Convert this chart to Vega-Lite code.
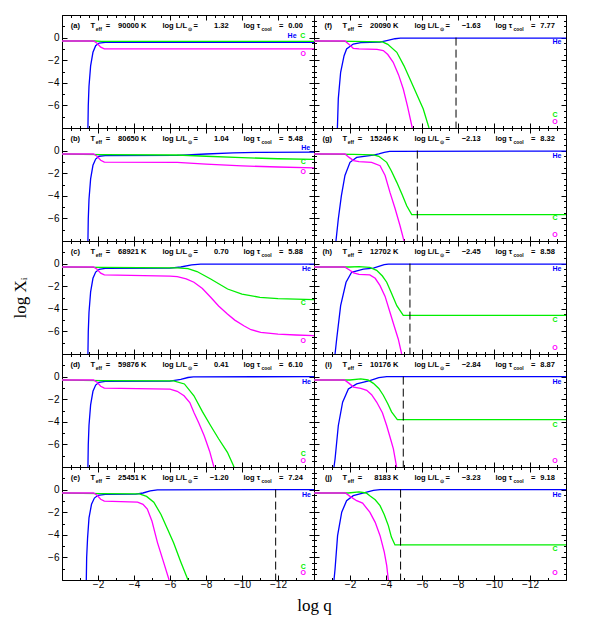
{
"$schema":"https://vega.github.io/schema/vega-lite/v6.json",
"background":"white",
"padding":{"left":11,"top":9,"right":5,"bottom":5},
"datasets":{
"curves":[
{"p":"a","s":"He","q":-1.44,"X":-8},{"p":"a","s":"He","q":-1.46,"X":-6},{"p":"a","s":"He","q":-1.5,"X":-4.3},{"p":"a","s":"He","q":-1.59,"X":-2.5},{"p":"a","s":"He","q":-1.72,"X":-1.3},{"p":"a","s":"He","q":-1.87,"X":-0.72},{"p":"a","s":"He","q":-2.06,"X":-0.48},{"p":"a","s":"He","q":-2.4,"X":-0.42},{"p":"a","s":"He","q":-14,"X":-0.42},
{"p":"a","s":"C","q":0,"X":-0.3},{"p":"a","s":"C","q":-1.8,"X":-0.3},{"p":"a","s":"C","q":-2.2,"X":-0.33},{"p":"a","s":"C","q":-14,"X":-0.33},
{"p":"a","s":"O","q":0,"X":-0.3},{"p":"a","s":"O","q":-1.75,"X":-0.3},{"p":"a","s":"O","q":-1.95,"X":-0.5},{"p":"a","s":"O","q":-2.15,"X":-0.85},{"p":"a","s":"O","q":-2.35,"X":-1.0},{"p":"a","s":"O","q":-14,"X":-1.0},

{"p":"b","s":"He","q":-1.44,"X":-8},{"p":"b","s":"He","q":-1.46,"X":-6},{"p":"b","s":"He","q":-1.5,"X":-4.3},{"p":"b","s":"He","q":-1.59,"X":-2.5},{"p":"b","s":"He","q":-1.72,"X":-1.3},{"p":"b","s":"He","q":-1.87,"X":-0.75},{"p":"b","s":"He","q":-2.06,"X":-0.5},{"p":"b","s":"He","q":-2.4,"X":-0.45},{"p":"b","s":"He","q":-6.4,"X":-0.43},{"p":"b","s":"He","q":-8,"X":-0.3},{"p":"b","s":"He","q":-9.5,"X":-0.2},{"p":"b","s":"He","q":-11,"X":-0.15},{"p":"b","s":"He","q":-14,"X":-0.13},
{"p":"b","s":"C","q":0,"X":-0.3},{"p":"b","s":"C","q":-2.2,"X":-0.36},{"p":"b","s":"C","q":-6.4,"X":-0.39},{"p":"b","s":"C","q":-8,"X":-0.5},{"p":"b","s":"C","q":-10,"X":-0.62},{"p":"b","s":"C","q":-12,"X":-0.72},{"p":"b","s":"C","q":-14,"X":-0.78},
{"p":"b","s":"O","q":0,"X":-0.3},{"p":"b","s":"O","q":-1.75,"X":-0.3},{"p":"b","s":"O","q":-1.95,"X":-0.5},{"p":"b","s":"O","q":-2.15,"X":-0.85},{"p":"b","s":"O","q":-2.35,"X":-1.02},{"p":"b","s":"O","q":-6.4,"X":-1.05},{"p":"b","s":"O","q":-8,"X":-1.2},{"p":"b","s":"O","q":-10,"X":-1.35},{"p":"b","s":"O","q":-12,"X":-1.45},{"p":"b","s":"O","q":-14,"X":-1.52},

{"p":"c","s":"He","q":-1.44,"X":-8},{"p":"c","s":"He","q":-1.46,"X":-6},{"p":"c","s":"He","q":-1.5,"X":-4.3},{"p":"c","s":"He","q":-1.59,"X":-2.5},{"p":"c","s":"He","q":-1.72,"X":-1.3},{"p":"c","s":"He","q":-1.87,"X":-0.75},{"p":"c","s":"He","q":-2.06,"X":-0.5},{"p":"c","s":"He","q":-2.4,"X":-0.42},{"p":"c","s":"He","q":-6.0,"X":-0.4},{"p":"c","s":"He","q":-6.6,"X":-0.3},{"p":"c","s":"He","q":-7.2,"X":-0.12},{"p":"c","s":"He","q":-7.7,"X":-0.05},{"p":"c","s":"He","q":-14,"X":-0.04},
{"p":"c","s":"C","q":0,"X":-0.3},{"p":"c","s":"C","q":-2.2,"X":-0.34},{"p":"c","s":"C","q":-6.4,"X":-0.38},{"p":"c","s":"C","q":-7.0,"X":-0.45},{"p":"c","s":"C","q":-7.5,"X":-0.7},{"p":"c","s":"C","q":-8.26,"X":-1.36},{"p":"c","s":"C","q":-9.2,"X":-2.25},{"p":"c","s":"C","q":-10,"X":-2.7},{"p":"c","s":"C","q":-11,"X":-2.98},{"p":"c","s":"C","q":-12,"X":-3.1},{"p":"c","s":"C","q":-14,"X":-3.19},
{"p":"c","s":"O","q":0,"X":-0.3},{"p":"c","s":"O","q":-1.75,"X":-0.3},{"p":"c","s":"O","q":-1.95,"X":-0.5},{"p":"c","s":"O","q":-2.15,"X":-0.85},{"p":"c","s":"O","q":-2.35,"X":-1.0},{"p":"c","s":"O","q":-6.0,"X":-1.1},{"p":"c","s":"O","q":-6.4,"X":-1.16},{"p":"c","s":"O","q":-6.9,"X":-1.35},{"p":"c","s":"O","q":-7.33,"X":-1.65},{"p":"c","s":"O","q":-7.8,"X":-2.2},{"p":"c","s":"O","q":-8.26,"X":-2.98},{"p":"c","s":"O","q":-8.7,"X":-3.75},{"p":"c","s":"O","q":-9.19,"X":-4.46},{"p":"c","s":"O","q":-9.6,"X":-5.0},{"p":"c","s":"O","q":-10.1,"X":-5.5},{"p":"c","s":"O","q":-10.5,"X":-5.85},{"p":"c","s":"O","q":-11.04,"X":-6.08},{"p":"c","s":"O","q":-12,"X":-6.25},{"p":"c","s":"O","q":-13,"X":-6.32},{"p":"c","s":"O","q":-14,"X":-6.38},

{"p":"d","s":"He","q":-1.44,"X":-8},{"p":"d","s":"He","q":-1.46,"X":-6},{"p":"d","s":"He","q":-1.5,"X":-4.3},{"p":"d","s":"He","q":-1.59,"X":-2.5},{"p":"d","s":"He","q":-1.72,"X":-1.3},{"p":"d","s":"He","q":-1.87,"X":-0.75},{"p":"d","s":"He","q":-2.06,"X":-0.5},{"p":"d","s":"He","q":-2.4,"X":-0.42},{"p":"d","s":"He","q":-6.0,"X":-0.4},{"p":"d","s":"He","q":-6.6,"X":-0.25},{"p":"d","s":"He","q":-7.0,"X":-0.08},{"p":"d","s":"He","q":-7.3,"X":-0.02},{"p":"d","s":"He","q":-14,"X":-0.01},
{"p":"d","s":"C","q":0,"X":-0.3},{"p":"d","s":"C","q":-2.2,"X":-0.35},{"p":"d","s":"C","q":-6.2,"X":-0.38},{"p":"d","s":"C","q":-6.8,"X":-0.65},{"p":"d","s":"C","q":-7.33,"X":-1.7},{"p":"d","s":"C","q":-7.8,"X":-3.1},{"p":"d","s":"C","q":-8.26,"X":-4.35},{"p":"d","s":"C","q":-8.7,"X":-5.5},{"p":"d","s":"C","q":-9.19,"X":-6.7},{"p":"d","s":"C","q":-9.56,"X":-8},
{"p":"d","s":"O","q":0,"X":-0.3},{"p":"d","s":"O","q":-1.75,"X":-0.3},{"p":"d","s":"O","q":-1.95,"X":-0.5},{"p":"d","s":"O","q":-2.15,"X":-0.85},{"p":"d","s":"O","q":-2.35,"X":-1.02},{"p":"d","s":"O","q":-6.0,"X":-1.1},{"p":"d","s":"O","q":-6.4,"X":-1.3},{"p":"d","s":"O","q":-6.78,"X":-1.7},{"p":"d","s":"O","q":-7.1,"X":-2.3},{"p":"d","s":"O","q":-7.33,"X":-3.17},{"p":"d","s":"O","q":-7.6,"X":-4.1},{"p":"d","s":"O","q":-7.9,"X":-5.23},{"p":"d","s":"O","q":-8.2,"X":-6.6},{"p":"d","s":"O","q":-8.44,"X":-8},

{"p":"e","s":"He","q":-1.35,"X":-8},{"p":"e","s":"He","q":-1.37,"X":-6},{"p":"e","s":"He","q":-1.42,"X":-4.3},{"p":"e","s":"He","q":-1.5,"X":-2.5},{"p":"e","s":"He","q":-1.64,"X":-1.3},{"p":"e","s":"He","q":-1.8,"X":-0.75},{"p":"e","s":"He","q":-2.0,"X":-0.5},{"p":"e","s":"He","q":-2.4,"X":-0.42},{"p":"e","s":"He","q":-4.1,"X":-0.4},{"p":"e","s":"He","q":-4.5,"X":-0.3},{"p":"e","s":"He","q":-4.9,"X":-0.12},{"p":"e","s":"He","q":-5.3,"X":-0.02},{"p":"e","s":"He","q":-14,"X":0},
{"p":"e","s":"C","q":0,"X":-0.3},{"p":"e","s":"C","q":-2.2,"X":-0.35},{"p":"e","s":"C","q":-4.3,"X":-0.38},{"p":"e","s":"C","q":-4.7,"X":-0.6},{"p":"e","s":"C","q":-5.1,"X":-1.12},{"p":"e","s":"C","q":-5.5,"X":-2.2},{"p":"e","s":"C","q":-5.86,"X":-3.49},{"p":"e","s":"C","q":-6.2,"X":-4.7},{"p":"e","s":"C","q":-6.6,"X":-6.4},{"p":"e","s":"C","q":-7.0,"X":-8},
{"p":"e","s":"O","q":0,"X":-0.3},{"p":"e","s":"O","q":-1.75,"X":-0.3},{"p":"e","s":"O","q":-1.95,"X":-0.5},{"p":"e","s":"O","q":-2.15,"X":-0.85},{"p":"e","s":"O","q":-2.35,"X":-1.02},{"p":"e","s":"O","q":-4.2,"X":-1.1},{"p":"e","s":"O","q":-4.5,"X":-1.3},{"p":"e","s":"O","q":-4.74,"X":-1.72},{"p":"e","s":"O","q":-5.0,"X":-2.8},{"p":"e","s":"O","q":-5.3,"X":-4.67},{"p":"e","s":"O","q":-5.6,"X":-6.2},{"p":"e","s":"O","q":-5.95,"X":-8},

{"p":"f","s":"He","q":-1.3,"X":-8},{"p":"f","s":"He","q":-1.35,"X":-5.4},{"p":"f","s":"He","q":-1.48,"X":-3.07},{"p":"f","s":"He","q":-1.67,"X":-1.6},{"p":"f","s":"He","q":-1.81,"X":-1.0},{"p":"f","s":"He","q":-2.18,"X":-0.57},{"p":"f","s":"He","q":-2.6,"X":-0.45},{"p":"f","s":"He","q":-3.67,"X":-0.4},{"p":"f","s":"He","q":-4.1,"X":-0.25},{"p":"f","s":"He","q":-4.5,"X":-0.1},{"p":"f","s":"He","q":-4.8,"X":-0.05},{"p":"f","s":"He","q":-14,"X":-0.05},
{"p":"f","s":"C","q":0,"X":-0.3},{"p":"f","s":"C","q":-2.2,"X":-0.33},{"p":"f","s":"C","q":-3.8,"X":-0.38},{"p":"f","s":"C","q":-4.1,"X":-0.6},{"p":"f","s":"C","q":-4.6,"X":-1.3},{"p":"f","s":"C","q":-5.0,"X":-2.5},{"p":"f","s":"C","q":-5.33,"X":-3.66},{"p":"f","s":"C","q":-5.7,"X":-5.0},{"p":"f","s":"C","q":-6.07,"X":-6.32},{"p":"f","s":"C","q":-6.39,"X":-8},
{"p":"f","s":"O","q":0,"X":-0.3},{"p":"f","s":"O","q":-1.72,"X":-0.3},{"p":"f","s":"O","q":-1.95,"X":-0.6},{"p":"f","s":"O","q":-2.18,"X":-0.95},{"p":"f","s":"O","q":-2.5,"X":-1.0},{"p":"f","s":"O","q":-3.5,"X":-1.05},{"p":"f","s":"O","q":-3.85,"X":-1.15},{"p":"f","s":"O","q":-4.1,"X":-1.5},{"p":"f","s":"O","q":-4.4,"X":-2.19},{"p":"f","s":"O","q":-4.7,"X":-3.3},{"p":"f","s":"O","q":-4.96,"X":-4.55},{"p":"f","s":"O","q":-5.2,"X":-6.1},{"p":"f","s":"O","q":-5.46,"X":-8},

{"p":"g","s":"He","q":-1.22,"X":-8},{"p":"g","s":"He","q":-1.35,"X":-6.05},{"p":"g","s":"He","q":-1.52,"X":-4.0},{"p":"g","s":"He","q":-1.72,"X":-2.2},{"p":"g","s":"He","q":-2.0,"X":-1.04},{"p":"g","s":"He","q":-2.37,"X":-0.6},{"p":"g","s":"He","q":-3.3,"X":-0.4},{"p":"g","s":"He","q":-3.6,"X":-0.3},{"p":"g","s":"He","q":-3.9,"X":-0.15},{"p":"g","s":"He","q":-4.2,"X":-0.06},{"p":"g","s":"He","q":-14,"X":-0.05},
{"p":"g","s":"C","q":0,"X":-0.3},{"p":"g","s":"C","q":-2.2,"X":-0.33},{"p":"g","s":"C","q":-3.3,"X":-0.38},{"p":"g","s":"C","q":-3.6,"X":-0.5},{"p":"g","s":"C","q":-4.04,"X":-1.04},{"p":"g","s":"C","q":-4.3,"X":-1.8},{"p":"g","s":"C","q":-4.6,"X":-2.81},{"p":"g","s":"C","q":-4.9,"X":-3.9},{"p":"g","s":"C","q":-5.15,"X":-4.88},{"p":"g","s":"C","q":-5.43,"X":-5.67},{"p":"g","s":"C","q":-14,"X":-5.67},
{"p":"g","s":"O","q":0,"X":-0.3},{"p":"g","s":"O","q":-1.72,"X":-0.3},{"p":"g","s":"O","q":-1.95,"X":-0.6},{"p":"g","s":"O","q":-2.2,"X":-0.88},{"p":"g","s":"O","q":-2.5,"X":-0.97},{"p":"g","s":"O","q":-3.2,"X":-1.05},{"p":"g","s":"O","q":-3.67,"X":-1.34},{"p":"g","s":"O","q":-3.95,"X":-2.2},{"p":"g","s":"O","q":-4.22,"X":-3.7},{"p":"g","s":"O","q":-4.5,"X":-5.1},{"p":"g","s":"O","q":-4.78,"X":-6.65},{"p":"g","s":"O","q":-5.0,"X":-8},

{"p":"h","s":"He","q":-1.17,"X":-8},{"p":"h","s":"He","q":-1.26,"X":-6.67},{"p":"h","s":"He","q":-1.48,"X":-3.72},{"p":"h","s":"He","q":-1.78,"X":-1.65},{"p":"h","s":"He","q":-2.09,"X":-0.77},{"p":"h","s":"He","q":-2.74,"X":-0.48},{"p":"h","s":"He","q":-3.3,"X":-0.4},{"p":"h","s":"He","q":-3.6,"X":-0.25},{"p":"h","s":"He","q":-3.9,"X":-0.1},{"p":"h","s":"He","q":-4.13,"X":-0.04},{"p":"h","s":"He","q":-14,"X":-0.04},
{"p":"h","s":"C","q":0,"X":-0.3},{"p":"h","s":"C","q":-2.0,"X":-0.3},{"p":"h","s":"C","q":-2.5,"X":-0.27},{"p":"h","s":"C","q":-3.1,"X":-0.33},{"p":"h","s":"C","q":-3.48,"X":-0.6},{"p":"h","s":"C","q":-3.8,"X":-1.1},{"p":"h","s":"C","q":-4.04,"X":-1.65},{"p":"h","s":"C","q":-4.3,"X":-2.6},{"p":"h","s":"C","q":-4.6,"X":-3.72},{"p":"h","s":"C","q":-4.96,"X":-4.58},{"p":"h","s":"C","q":-14,"X":-4.58},
{"p":"h","s":"O","q":0,"X":-0.3},{"p":"h","s":"O","q":-1.7,"X":-0.3},{"p":"h","s":"O","q":-1.95,"X":-0.55},{"p":"h","s":"O","q":-2.2,"X":-0.82},{"p":"h","s":"O","q":-2.5,"X":-0.95},{"p":"h","s":"O","q":-3.1,"X":-1.0},{"p":"h","s":"O","q":-3.4,"X":-1.3},{"p":"h","s":"O","q":-3.67,"X":-1.95},{"p":"h","s":"O","q":-3.95,"X":-2.9},{"p":"h","s":"O","q":-4.22,"X":-4.3},{"p":"h","s":"O","q":-4.45,"X":-5.5},{"p":"h","s":"O","q":-4.68,"X":-6.67},{"p":"h","s":"O","q":-4.87,"X":-8},

{"p":"i","s":"He","q":-1.11,"X":-8},{"p":"i","s":"He","q":-1.17,"X":-7.29},{"p":"i","s":"He","q":-1.35,"X":-4.35},{"p":"i","s":"He","q":-1.59,"X":-2.27},{"p":"i","s":"He","q":-1.91,"X":-1.1},{"p":"i","s":"He","q":-2.37,"X":-0.65},{"p":"i","s":"He","q":-3.1,"X":-0.35},{"p":"i","s":"He","q":-3.6,"X":-0.1},{"p":"i","s":"He","q":-4.04,"X":-0.01},{"p":"i","s":"He","q":-14,"X":-0.01},
{"p":"i","s":"C","q":0,"X":-0.3},{"p":"i","s":"C","q":-2.0,"X":-0.3},{"p":"i","s":"C","q":-2.6,"X":-0.2},{"p":"i","s":"C","q":-3.0,"X":-0.3},{"p":"i","s":"C","q":-3.3,"X":-0.6},{"p":"i","s":"C","q":-3.6,"X":-1.05},{"p":"i","s":"C","q":-3.85,"X":-1.65},{"p":"i","s":"C","q":-4.1,"X":-2.4},{"p":"i","s":"C","q":-4.31,"X":-3.12},{"p":"i","s":"C","q":-4.63,"X":-3.8},{"p":"i","s":"C","q":-14,"X":-3.8},
{"p":"i","s":"O","q":0,"X":-0.3},{"p":"i","s":"O","q":-1.7,"X":-0.3},{"p":"i","s":"O","q":-1.95,"X":-0.6},{"p":"i","s":"O","q":-2.2,"X":-0.93},{"p":"i","s":"O","q":-2.6,"X":-1.05},{"p":"i","s":"O","q":-2.93,"X":-1.22},{"p":"i","s":"O","q":-3.2,"X":-1.6},{"p":"i","s":"O","q":-3.48,"X":-2.25},{"p":"i","s":"O","q":-3.8,"X":-3.2},{"p":"i","s":"O","q":-4.04,"X":-4.35},{"p":"i","s":"O","q":-4.25,"X":-5.5},{"p":"i","s":"O","q":-4.41,"X":-6.4},{"p":"i","s":"O","q":-4.59,"X":-8},

{"p":"j","s":"He","q":-1.11,"X":-8},{"p":"j","s":"He","q":-1.17,"X":-7.03},{"p":"j","s":"He","q":-1.31,"X":-4.08},{"p":"j","s":"He","q":-1.54,"X":-2.0},{"p":"j","s":"He","q":-1.81,"X":-0.98},{"p":"j","s":"He","q":-2.18,"X":-0.54},{"p":"j","s":"He","q":-2.93,"X":-0.23},{"p":"j","s":"He","q":-3.3,"X":-0.07},{"p":"j","s":"He","q":-3.67,"X":0},{"p":"j","s":"He","q":-14,"X":0},
{"p":"j","s":"C","q":0,"X":-0.3},{"p":"j","s":"C","q":-1.9,"X":-0.3},{"p":"j","s":"C","q":-2.5,"X":-0.2},{"p":"j","s":"C","q":-2.9,"X":-0.3},{"p":"j","s":"C","q":-3.1,"X":-0.55},{"p":"j","s":"C","q":-3.4,"X":-0.9},{"p":"j","s":"C","q":-3.67,"X":-1.42},{"p":"j","s":"C","q":-3.9,"X":-2.2},{"p":"j","s":"C","q":-4.13,"X":-3.19},{"p":"j","s":"C","q":-4.3,"X":-4.2},{"p":"j","s":"C","q":-4.5,"X":-4.9},{"p":"j","s":"C","q":-14,"X":-4.9},
{"p":"j","s":"O","q":0,"X":-0.3},{"p":"j","s":"O","q":-1.75,"X":-0.3},{"p":"j","s":"O","q":-2.0,"X":-0.6},{"p":"j","s":"O","q":-2.37,"X":-0.98},{"p":"j","s":"O","q":-2.7,"X":-1.2},{"p":"j","s":"O","q":-3.1,"X":-2.0},{"p":"j","s":"O","q":-3.4,"X":-2.9},{"p":"j","s":"O","q":-3.67,"X":-4.08},{"p":"j","s":"O","q":-3.9,"X":-5.5},{"p":"j","s":"O","q":-4.04,"X":-6.73},{"p":"j","s":"O","q":-4.13,"X":-8}
],
"labels":[
{"p":"a","s":"He","q":-12.78,"X":0.12},{"p":"a","s":"C","q":-13.37,"X":0.12},{"p":"a","s":"O","q":-13.4,"X":-1.45},
{"p":"b","s":"He","q":-13.54,"X":0.2},{"p":"b","s":"C","q":-13.4,"X":-1.04},{"p":"b","s":"O","q":-13.4,"X":-1.87},
{"p":"c","s":"He","q":-13.58,"X":-0.48},{"p":"c","s":"C","q":-13.4,"X":-3.5},{"p":"c","s":"O","q":-13.4,"X":-6.83},
{"p":"d","s":"He","q":-13.58,"X":-0.51},{"p":"d","s":"C","q":-13.4,"X":-6.85},{"p":"d","s":"O","q":-13.4,"X":-7.44},
{"p":"e","s":"He","q":-13.58,"X":-0.45},{"p":"e","s":"C","q":-13.4,"X":-6.83},{"p":"e","s":"O","q":-13.4,"X":-7.42},
{"p":"f","s":"He","q":-13.5,"X":-0.42},{"p":"f","s":"C","q":-13.39,"X":-6.82},{"p":"f","s":"O","q":-13.39,"X":-7.44},
{"p":"g","s":"He","q":-13.5,"X":-0.5},{"p":"g","s":"C","q":-13.39,"X":-6.0},{"p":"g","s":"O","q":-13.39,"X":-7.45},
{"p":"h","s":"He","q":-13.5,"X":-0.48},{"p":"h","s":"C","q":-13.39,"X":-4.96},{"p":"h","s":"O","q":-13.39,"X":-7.47},
{"p":"i","s":"He","q":-13.5,"X":-0.51},{"p":"i","s":"C","q":-13.39,"X":-4.26},{"p":"i","s":"O","q":-13.39,"X":-7.44},
{"p":"j","s":"He","q":-13.5,"X":-0.45},{"p":"j","s":"C","q":-13.39,"X":-5.26},{"p":"j","s":"O","q":-13.39,"X":-7.42}
],
"hdrS":[
{"t":"T","q":-1.59,"X":1.05},{"t":"=","q":-2.43,"X":1.05},{"t":"log L/L","q":-5.58,"X":1.05},{"t":"=","q":-7.3,"X":1.05},{"t":"log τ","q":-10.08,"X":1.05},{"t":"=","q":-12.06,"X":1.05}
],
"hdrSub":[
{"t":"eff","q":-1.88,"X":0.78},{"t":"⊙","q":-6.98,"X":0.78},{"t":"cool","q":-11.08,"X":0.78}
],
"hdrV":[
{"p":"a","t":"(a)","q":-1.0,"X":1.05},{"p":"a","t":"90000 K","q":-4.69,"X":1.05},{"p":"a","t":"1.32","q":-9.26,"X":1.05},{"p":"a","t":"0.00","q":-13.38,"X":1.05},
{"p":"b","t":"(b)","q":-1.0,"X":1.05},{"p":"b","t":"80650 K","q":-4.69,"X":1.05},{"p":"b","t":"1.04","q":-9.26,"X":1.05},{"p":"b","t":"5.48","q":-13.38,"X":1.05},
{"p":"c","t":"(c)","q":-1.0,"X":1.05},{"p":"c","t":"68921 K","q":-4.69,"X":1.05},{"p":"c","t":"0.70","q":-9.26,"X":1.05},{"p":"c","t":"5.88","q":-13.38,"X":1.05},
{"p":"d","t":"(d)","q":-1.0,"X":1.05},{"p":"d","t":"59876 K","q":-4.69,"X":1.05},{"p":"d","t":"0.41","q":-9.26,"X":1.05},{"p":"d","t":"6.10","q":-13.38,"X":1.05},
{"p":"e","t":"(e)","q":-1.0,"X":1.05},{"p":"e","t":"25451 K","q":-4.69,"X":1.05},{"p":"e","t":"−1.20","q":-9.26,"X":1.05},{"p":"e","t":"7.24","q":-13.38,"X":1.05},
{"p":"f","t":"(f)","q":-1.0,"X":1.05},{"p":"f","t":"20090 K","q":-4.69,"X":1.05},{"p":"f","t":"−1.63","q":-9.26,"X":1.05},{"p":"f","t":"7.77","q":-13.38,"X":1.05},
{"p":"g","t":"(g)","q":-1.0,"X":1.05},{"p":"g","t":"15246 K","q":-4.69,"X":1.05},{"p":"g","t":"−2.13","q":-9.26,"X":1.05},{"p":"g","t":"8.32","q":-13.38,"X":1.05},
{"p":"h","t":"(h)","q":-1.0,"X":1.05},{"p":"h","t":"12702 K","q":-4.69,"X":1.05},{"p":"h","t":"−2.45","q":-9.26,"X":1.05},{"p":"h","t":"8.58","q":-13.38,"X":1.05},
{"p":"i","t":"(i)","q":-1.0,"X":1.05},{"p":"i","t":"10176 K","q":-4.69,"X":1.05},{"p":"i","t":"−2.84","q":-9.26,"X":1.05},{"p":"i","t":"8.87","q":-13.38,"X":1.05},
{"p":"j","t":"(j)","q":-1.0,"X":1.05},{"p":"j","t":"8183 K","q":-4.69,"X":1.05},{"p":"j","t":"−3.23","q":-9.26,"X":1.05},{"p":"j","t":"9.18","q":-13.38,"X":1.05}
],
"rules":[
{"p":"e","q":-11.87},{"p":"f","q":-7.89},{"p":"g","q":-5.74},{"p":"h","q":-5.33},{"p":"i","q":-4.96},{"p":"j","q":-4.81}
]
},
"columns":2,
"spacing":0,
"bounds":"flush",
"concat":[
{"width":252,"height":113,"layer":[
{"data":{"name":"curves"},"transform":[{"filter":"datum.p=='a'"}],"mark":{"type":"line","clip":true},"encoding":{"x":{"field":"q","type":"quantitative","scale":{"domain":[0,-14],"nice":false,"zero":false},"axis":{"orient":"bottom","values":[0,-0.5,-1,-1.5,-2,-2.5,-3,-3.5,-4,-4.5,-5,-5.5,-6,-6.5,-7,-7.5,-8,-8.5,-9,-9.5,-10,-10.5,-11,-11.5,-12,-12.5,-13,-13.5,-14],"tickSize":{"condition":{"test":"datum.value % 2 == 0","value":-5},"value":-2.5},"labels":false,"title":null}},"y":{"field":"X","type":"quantitative","scale":{"domain":[-8,2],"nice":false,"zero":false},"axis":{"orient":"left","values":[2,1.5,1,0.5,0,-0.5,-1,-1.5,-2,-2.5,-3,-3.5,-4,-4.5,-5,-5.5,-6,-6.5,-7,-7.5,-8],"tickSize":{"condition":{"test":"datum.value % 2 == 0","value":-5},"value":-2.5},"format":"d","labelExpr":"datum.value % 2 == 0 && datum.value <= 0 && datum.value > -8 ? datum.label : ''","labelPadding":8,"title":null}},"color":{"field":"s","type":"nominal","scale":{"domain":["He","C","O"],"range":["#0000ff","#00ee00","#ff00ff"]},"legend":null}}},
{"data":{"name":"labels"},"transform":[{"filter":"datum.p=='a'"}],"mark":{"type":"text","fontSize":7,"fontWeight":"bold"},"encoding":{"x":{"field":"q","type":"quantitative","axis":{"orient":"top","values":[0,-0.5,-1,-1.5,-2,-2.5,-3,-3.5,-4,-4.5,-5,-5.5,-6,-6.5,-7,-7.5,-8,-8.5,-9,-9.5,-10,-10.5,-11,-11.5,-12,-12.5,-13,-13.5,-14],"tickSize":{"condition":{"test":"datum.value % 2 == 0","value":-5},"value":-2.5},"labels":false,"title":null}},"y":{"field":"X","type":"quantitative","axis":{"orient":"right","values":[2,1.5,1,0.5,0,-0.5,-1,-1.5,-2,-2.5,-3,-3.5,-4,-4.5,-5,-5.5,-6,-6.5,-7,-7.5,-8],"tickSize":{"condition":{"test":"datum.value % 2 == 0","value":-5},"value":-2.5},"labels":false,"title":null}},"text":{"field":"s"},"color":{"field":"s","type":"nominal","legend":null}}},
{"data":{"name":"hdrS"},"mark":{"type":"text","align":"left","fontSize":7.5,"fontWeight":"bold","color":"black"},"encoding":{"x":{"field":"q","type":"quantitative","axis":null},"y":{"field":"X","type":"quantitative","axis":null},"text":{"field":"t"}}},
{"data":{"name":"hdrSub"},"mark":{"type":"text","align":"left","fontSize":5,"fontWeight":"bold","color":"black"},"encoding":{"x":{"field":"q","type":"quantitative","axis":null},"y":{"field":"X","type":"quantitative","axis":null},"text":{"field":"t"}}},
{"data":{"name":"hdrV"},"transform":[{"filter":"datum.p=='a'"}],"mark":{"type":"text","align":"right","fontSize":7.5,"fontWeight":"bold","color":"black"},"encoding":{"x":{"field":"q","type":"quantitative","axis":null},"y":{"field":"X","type":"quantitative","axis":null},"text":{"field":"t"}}}
],"resolve":{"axis":{"x":"independent","y":"independent"}}},
{"width":252,"height":113,"layer":[
{"data":{"name":"curves"},"transform":[{"filter":"datum.p=='f'"}],"mark":{"type":"line","clip":true},"encoding":{"x":{"field":"q","type":"quantitative","scale":{"domain":[0,-14],"nice":false,"zero":false},"axis":{"orient":"bottom","values":[0,-0.5,-1,-1.5,-2,-2.5,-3,-3.5,-4,-4.5,-5,-5.5,-6,-6.5,-7,-7.5,-8,-8.5,-9,-9.5,-10,-10.5,-11,-11.5,-12,-12.5,-13,-13.5,-14],"tickSize":{"condition":{"test":"datum.value % 2 == 0","value":-5},"value":-2.5},"labels":false,"title":null}},"y":{"field":"X","type":"quantitative","scale":{"domain":[-8,2],"nice":false,"zero":false},"axis":{"orient":"left","values":[2,1.5,1,0.5,0,-0.5,-1,-1.5,-2,-2.5,-3,-3.5,-4,-4.5,-5,-5.5,-6,-6.5,-7,-7.5,-8],"tickSize":{"condition":{"test":"datum.value % 2 == 0","value":-5},"value":-2.5},"labels":false,"title":null}},"color":{"field":"s","type":"nominal","scale":{"domain":["He","C","O"],"range":["#0000ff","#00ee00","#ff00ff"]},"legend":null}}},
{"data":{"name":"labels"},"transform":[{"filter":"datum.p=='f'"}],"mark":{"type":"text","fontSize":7,"fontWeight":"bold"},"encoding":{"x":{"field":"q","type":"quantitative","axis":{"orient":"top","values":[0,-0.5,-1,-1.5,-2,-2.5,-3,-3.5,-4,-4.5,-5,-5.5,-6,-6.5,-7,-7.5,-8,-8.5,-9,-9.5,-10,-10.5,-11,-11.5,-12,-12.5,-13,-13.5,-14],"tickSize":{"condition":{"test":"datum.value % 2 == 0","value":-5},"value":-2.5},"labels":false,"title":null}},"y":{"field":"X","type":"quantitative","axis":{"orient":"right","values":[2,1.5,1,0.5,0,-0.5,-1,-1.5,-2,-2.5,-3,-3.5,-4,-4.5,-5,-5.5,-6,-6.5,-7,-7.5,-8],"tickSize":{"condition":{"test":"datum.value % 2 == 0","value":-5},"value":-2.5},"labels":false,"title":null}},"text":{"field":"s"},"color":{"field":"s","type":"nominal","legend":null}}},
{"data":{"name":"hdrS"},"mark":{"type":"text","align":"left","fontSize":7.5,"fontWeight":"bold","color":"black"},"encoding":{"x":{"field":"q","type":"quantitative","axis":null},"y":{"field":"X","type":"quantitative","axis":null},"text":{"field":"t"}}},
{"data":{"name":"hdrSub"},"mark":{"type":"text","align":"left","fontSize":5,"fontWeight":"bold","color":"black"},"encoding":{"x":{"field":"q","type":"quantitative","axis":null},"y":{"field":"X","type":"quantitative","axis":null},"text":{"field":"t"}}},
{"data":{"name":"hdrV"},"transform":[{"filter":"datum.p=='f'"}],"mark":{"type":"text","align":"right","fontSize":7.5,"fontWeight":"bold","color":"black"},"encoding":{"x":{"field":"q","type":"quantitative","axis":null},"y":{"field":"X","type":"quantitative","axis":null},"text":{"field":"t"}}},
{"data":{"name":"rules"},"transform":[{"filter":"datum.p=='f'"}],"mark":{"type":"rule","strokeDash":[8,4],"color":"black","strokeWidth":1},"encoding":{"x":{"field":"q","type":"quantitative","axis":null},"y":{"datum":0,"type":"quantitative","axis":null},"y2":{"datum":-8}}}
],"resolve":{"axis":{"x":"independent","y":"independent"}}},
{"width":252,"height":113,"layer":[
{"data":{"name":"curves"},"transform":[{"filter":"datum.p=='b'"}],"mark":{"type":"line","clip":true},"encoding":{"x":{"field":"q","type":"quantitative","scale":{"domain":[0,-14],"nice":false,"zero":false},"axis":{"orient":"bottom","values":[0,-0.5,-1,-1.5,-2,-2.5,-3,-3.5,-4,-4.5,-5,-5.5,-6,-6.5,-7,-7.5,-8,-8.5,-9,-9.5,-10,-10.5,-11,-11.5,-12,-12.5,-13,-13.5,-14],"tickSize":{"condition":{"test":"datum.value % 2 == 0","value":-5},"value":-2.5},"labels":false,"title":null}},"y":{"field":"X","type":"quantitative","scale":{"domain":[-8,2],"nice":false,"zero":false},"axis":{"orient":"left","values":[2,1.5,1,0.5,0,-0.5,-1,-1.5,-2,-2.5,-3,-3.5,-4,-4.5,-5,-5.5,-6,-6.5,-7,-7.5,-8],"tickSize":{"condition":{"test":"datum.value % 2 == 0","value":-5},"value":-2.5},"format":"d","labelExpr":"datum.value % 2 == 0 && datum.value <= 0 && datum.value > -8 ? datum.label : ''","labelPadding":8,"title":null}},"color":{"field":"s","type":"nominal","scale":{"domain":["He","C","O"],"range":["#0000ff","#00ee00","#ff00ff"]},"legend":null}}},
{"data":{"name":"labels"},"transform":[{"filter":"datum.p=='b'"}],"mark":{"type":"text","fontSize":7,"fontWeight":"bold"},"encoding":{"x":{"field":"q","type":"quantitative","axis":{"orient":"top","values":[0,-0.5,-1,-1.5,-2,-2.5,-3,-3.5,-4,-4.5,-5,-5.5,-6,-6.5,-7,-7.5,-8,-8.5,-9,-9.5,-10,-10.5,-11,-11.5,-12,-12.5,-13,-13.5,-14],"tickSize":{"condition":{"test":"datum.value % 2 == 0","value":-5},"value":-2.5},"labels":false,"title":null}},"y":{"field":"X","type":"quantitative","axis":{"orient":"right","values":[2,1.5,1,0.5,0,-0.5,-1,-1.5,-2,-2.5,-3,-3.5,-4,-4.5,-5,-5.5,-6,-6.5,-7,-7.5,-8],"tickSize":{"condition":{"test":"datum.value % 2 == 0","value":-5},"value":-2.5},"labels":false,"title":null}},"text":{"field":"s"},"color":{"field":"s","type":"nominal","legend":null}}},
{"data":{"name":"hdrS"},"mark":{"type":"text","align":"left","fontSize":7.5,"fontWeight":"bold","color":"black"},"encoding":{"x":{"field":"q","type":"quantitative","axis":null},"y":{"field":"X","type":"quantitative","axis":null},"text":{"field":"t"}}},
{"data":{"name":"hdrSub"},"mark":{"type":"text","align":"left","fontSize":5,"fontWeight":"bold","color":"black"},"encoding":{"x":{"field":"q","type":"quantitative","axis":null},"y":{"field":"X","type":"quantitative","axis":null},"text":{"field":"t"}}},
{"data":{"name":"hdrV"},"transform":[{"filter":"datum.p=='b'"}],"mark":{"type":"text","align":"right","fontSize":7.5,"fontWeight":"bold","color":"black"},"encoding":{"x":{"field":"q","type":"quantitative","axis":null},"y":{"field":"X","type":"quantitative","axis":null},"text":{"field":"t"}}}
],"resolve":{"axis":{"x":"independent","y":"independent"}}},
{"width":252,"height":113,"layer":[
{"data":{"name":"curves"},"transform":[{"filter":"datum.p=='g'"}],"mark":{"type":"line","clip":true},"encoding":{"x":{"field":"q","type":"quantitative","scale":{"domain":[0,-14],"nice":false,"zero":false},"axis":{"orient":"bottom","values":[0,-0.5,-1,-1.5,-2,-2.5,-3,-3.5,-4,-4.5,-5,-5.5,-6,-6.5,-7,-7.5,-8,-8.5,-9,-9.5,-10,-10.5,-11,-11.5,-12,-12.5,-13,-13.5,-14],"tickSize":{"condition":{"test":"datum.value % 2 == 0","value":-5},"value":-2.5},"labels":false,"title":null}},"y":{"field":"X","type":"quantitative","scale":{"domain":[-8,2],"nice":false,"zero":false},"axis":{"orient":"left","values":[2,1.5,1,0.5,0,-0.5,-1,-1.5,-2,-2.5,-3,-3.5,-4,-4.5,-5,-5.5,-6,-6.5,-7,-7.5,-8],"tickSize":{"condition":{"test":"datum.value % 2 == 0","value":-5},"value":-2.5},"labels":false,"title":null}},"color":{"field":"s","type":"nominal","scale":{"domain":["He","C","O"],"range":["#0000ff","#00ee00","#ff00ff"]},"legend":null}}},
{"data":{"name":"labels"},"transform":[{"filter":"datum.p=='g'"}],"mark":{"type":"text","fontSize":7,"fontWeight":"bold"},"encoding":{"x":{"field":"q","type":"quantitative","axis":{"orient":"top","values":[0,-0.5,-1,-1.5,-2,-2.5,-3,-3.5,-4,-4.5,-5,-5.5,-6,-6.5,-7,-7.5,-8,-8.5,-9,-9.5,-10,-10.5,-11,-11.5,-12,-12.5,-13,-13.5,-14],"tickSize":{"condition":{"test":"datum.value % 2 == 0","value":-5},"value":-2.5},"labels":false,"title":null}},"y":{"field":"X","type":"quantitative","axis":{"orient":"right","values":[2,1.5,1,0.5,0,-0.5,-1,-1.5,-2,-2.5,-3,-3.5,-4,-4.5,-5,-5.5,-6,-6.5,-7,-7.5,-8],"tickSize":{"condition":{"test":"datum.value % 2 == 0","value":-5},"value":-2.5},"labels":false,"title":null}},"text":{"field":"s"},"color":{"field":"s","type":"nominal","legend":null}}},
{"data":{"name":"hdrS"},"mark":{"type":"text","align":"left","fontSize":7.5,"fontWeight":"bold","color":"black"},"encoding":{"x":{"field":"q","type":"quantitative","axis":null},"y":{"field":"X","type":"quantitative","axis":null},"text":{"field":"t"}}},
{"data":{"name":"hdrSub"},"mark":{"type":"text","align":"left","fontSize":5,"fontWeight":"bold","color":"black"},"encoding":{"x":{"field":"q","type":"quantitative","axis":null},"y":{"field":"X","type":"quantitative","axis":null},"text":{"field":"t"}}},
{"data":{"name":"hdrV"},"transform":[{"filter":"datum.p=='g'"}],"mark":{"type":"text","align":"right","fontSize":7.5,"fontWeight":"bold","color":"black"},"encoding":{"x":{"field":"q","type":"quantitative","axis":null},"y":{"field":"X","type":"quantitative","axis":null},"text":{"field":"t"}}},
{"data":{"name":"rules"},"transform":[{"filter":"datum.p=='g'"}],"mark":{"type":"rule","strokeDash":[8,4],"color":"black","strokeWidth":1},"encoding":{"x":{"field":"q","type":"quantitative","axis":null},"y":{"datum":0,"type":"quantitative","axis":null},"y2":{"datum":-8}}}
],"resolve":{"axis":{"x":"independent","y":"independent"}}},
{"width":252,"height":113,"layer":[
{"data":{"name":"curves"},"transform":[{"filter":"datum.p=='c'"}],"mark":{"type":"line","clip":true},"encoding":{"x":{"field":"q","type":"quantitative","scale":{"domain":[0,-14],"nice":false,"zero":false},"axis":{"orient":"bottom","values":[0,-0.5,-1,-1.5,-2,-2.5,-3,-3.5,-4,-4.5,-5,-5.5,-6,-6.5,-7,-7.5,-8,-8.5,-9,-9.5,-10,-10.5,-11,-11.5,-12,-12.5,-13,-13.5,-14],"tickSize":{"condition":{"test":"datum.value % 2 == 0","value":-5},"value":-2.5},"labels":false,"title":null}},"y":{"field":"X","type":"quantitative","scale":{"domain":[-8,2],"nice":false,"zero":false},"axis":{"orient":"left","values":[2,1.5,1,0.5,0,-0.5,-1,-1.5,-2,-2.5,-3,-3.5,-4,-4.5,-5,-5.5,-6,-6.5,-7,-7.5,-8],"tickSize":{"condition":{"test":"datum.value % 2 == 0","value":-5},"value":-2.5},"format":"d","labelExpr":"datum.value % 2 == 0 && datum.value <= 0 && datum.value > -8 ? datum.label : ''","labelPadding":8,"title":"log Xᵢ","titlePadding":18}},"color":{"field":"s","type":"nominal","scale":{"domain":["He","C","O"],"range":["#0000ff","#00ee00","#ff00ff"]},"legend":null}}},
{"data":{"name":"labels"},"transform":[{"filter":"datum.p=='c'"}],"mark":{"type":"text","fontSize":7,"fontWeight":"bold"},"encoding":{"x":{"field":"q","type":"quantitative","axis":{"orient":"top","values":[0,-0.5,-1,-1.5,-2,-2.5,-3,-3.5,-4,-4.5,-5,-5.5,-6,-6.5,-7,-7.5,-8,-8.5,-9,-9.5,-10,-10.5,-11,-11.5,-12,-12.5,-13,-13.5,-14],"tickSize":{"condition":{"test":"datum.value % 2 == 0","value":-5},"value":-2.5},"labels":false,"title":null}},"y":{"field":"X","type":"quantitative","axis":{"orient":"right","values":[2,1.5,1,0.5,0,-0.5,-1,-1.5,-2,-2.5,-3,-3.5,-4,-4.5,-5,-5.5,-6,-6.5,-7,-7.5,-8],"tickSize":{"condition":{"test":"datum.value % 2 == 0","value":-5},"value":-2.5},"labels":false,"title":null}},"text":{"field":"s"},"color":{"field":"s","type":"nominal","legend":null}}},
{"data":{"name":"hdrS"},"mark":{"type":"text","align":"left","fontSize":7.5,"fontWeight":"bold","color":"black"},"encoding":{"x":{"field":"q","type":"quantitative","axis":null},"y":{"field":"X","type":"quantitative","axis":null},"text":{"field":"t"}}},
{"data":{"name":"hdrSub"},"mark":{"type":"text","align":"left","fontSize":5,"fontWeight":"bold","color":"black"},"encoding":{"x":{"field":"q","type":"quantitative","axis":null},"y":{"field":"X","type":"quantitative","axis":null},"text":{"field":"t"}}},
{"data":{"name":"hdrV"},"transform":[{"filter":"datum.p=='c'"}],"mark":{"type":"text","align":"right","fontSize":7.5,"fontWeight":"bold","color":"black"},"encoding":{"x":{"field":"q","type":"quantitative","axis":null},"y":{"field":"X","type":"quantitative","axis":null},"text":{"field":"t"}}}
],"resolve":{"axis":{"x":"independent","y":"independent"}}},
{"width":252,"height":113,"layer":[
{"data":{"name":"curves"},"transform":[{"filter":"datum.p=='h'"}],"mark":{"type":"line","clip":true},"encoding":{"x":{"field":"q","type":"quantitative","scale":{"domain":[0,-14],"nice":false,"zero":false},"axis":{"orient":"bottom","values":[0,-0.5,-1,-1.5,-2,-2.5,-3,-3.5,-4,-4.5,-5,-5.5,-6,-6.5,-7,-7.5,-8,-8.5,-9,-9.5,-10,-10.5,-11,-11.5,-12,-12.5,-13,-13.5,-14],"tickSize":{"condition":{"test":"datum.value % 2 == 0","value":-5},"value":-2.5},"labels":false,"title":null}},"y":{"field":"X","type":"quantitative","scale":{"domain":[-8,2],"nice":false,"zero":false},"axis":{"orient":"left","values":[2,1.5,1,0.5,0,-0.5,-1,-1.5,-2,-2.5,-3,-3.5,-4,-4.5,-5,-5.5,-6,-6.5,-7,-7.5,-8],"tickSize":{"condition":{"test":"datum.value % 2 == 0","value":-5},"value":-2.5},"labels":false,"title":null}},"color":{"field":"s","type":"nominal","scale":{"domain":["He","C","O"],"range":["#0000ff","#00ee00","#ff00ff"]},"legend":null}}},
{"data":{"name":"labels"},"transform":[{"filter":"datum.p=='h'"}],"mark":{"type":"text","fontSize":7,"fontWeight":"bold"},"encoding":{"x":{"field":"q","type":"quantitative","axis":{"orient":"top","values":[0,-0.5,-1,-1.5,-2,-2.5,-3,-3.5,-4,-4.5,-5,-5.5,-6,-6.5,-7,-7.5,-8,-8.5,-9,-9.5,-10,-10.5,-11,-11.5,-12,-12.5,-13,-13.5,-14],"tickSize":{"condition":{"test":"datum.value % 2 == 0","value":-5},"value":-2.5},"labels":false,"title":null}},"y":{"field":"X","type":"quantitative","axis":{"orient":"right","values":[2,1.5,1,0.5,0,-0.5,-1,-1.5,-2,-2.5,-3,-3.5,-4,-4.5,-5,-5.5,-6,-6.5,-7,-7.5,-8],"tickSize":{"condition":{"test":"datum.value % 2 == 0","value":-5},"value":-2.5},"labels":false,"title":null}},"text":{"field":"s"},"color":{"field":"s","type":"nominal","legend":null}}},
{"data":{"name":"hdrS"},"mark":{"type":"text","align":"left","fontSize":7.5,"fontWeight":"bold","color":"black"},"encoding":{"x":{"field":"q","type":"quantitative","axis":null},"y":{"field":"X","type":"quantitative","axis":null},"text":{"field":"t"}}},
{"data":{"name":"hdrSub"},"mark":{"type":"text","align":"left","fontSize":5,"fontWeight":"bold","color":"black"},"encoding":{"x":{"field":"q","type":"quantitative","axis":null},"y":{"field":"X","type":"quantitative","axis":null},"text":{"field":"t"}}},
{"data":{"name":"hdrV"},"transform":[{"filter":"datum.p=='h'"}],"mark":{"type":"text","align":"right","fontSize":7.5,"fontWeight":"bold","color":"black"},"encoding":{"x":{"field":"q","type":"quantitative","axis":null},"y":{"field":"X","type":"quantitative","axis":null},"text":{"field":"t"}}},
{"data":{"name":"rules"},"transform":[{"filter":"datum.p=='h'"}],"mark":{"type":"rule","strokeDash":[8,4],"color":"black","strokeWidth":1},"encoding":{"x":{"field":"q","type":"quantitative","axis":null},"y":{"datum":0,"type":"quantitative","axis":null},"y2":{"datum":-8}}}
],"resolve":{"axis":{"x":"independent","y":"independent"}}},
{"width":252,"height":113,"layer":[
{"data":{"name":"curves"},"transform":[{"filter":"datum.p=='d'"}],"mark":{"type":"line","clip":true},"encoding":{"x":{"field":"q","type":"quantitative","scale":{"domain":[0,-14],"nice":false,"zero":false},"axis":{"orient":"bottom","values":[0,-0.5,-1,-1.5,-2,-2.5,-3,-3.5,-4,-4.5,-5,-5.5,-6,-6.5,-7,-7.5,-8,-8.5,-9,-9.5,-10,-10.5,-11,-11.5,-12,-12.5,-13,-13.5,-14],"tickSize":{"condition":{"test":"datum.value % 2 == 0","value":-5},"value":-2.5},"labels":false,"title":null}},"y":{"field":"X","type":"quantitative","scale":{"domain":[-8,2],"nice":false,"zero":false},"axis":{"orient":"left","values":[2,1.5,1,0.5,0,-0.5,-1,-1.5,-2,-2.5,-3,-3.5,-4,-4.5,-5,-5.5,-6,-6.5,-7,-7.5,-8],"tickSize":{"condition":{"test":"datum.value % 2 == 0","value":-5},"value":-2.5},"format":"d","labelExpr":"datum.value % 2 == 0 && datum.value <= 0 && datum.value > -8 ? datum.label : ''","labelPadding":8,"title":null}},"color":{"field":"s","type":"nominal","scale":{"domain":["He","C","O"],"range":["#0000ff","#00ee00","#ff00ff"]},"legend":null}}},
{"data":{"name":"labels"},"transform":[{"filter":"datum.p=='d'"}],"mark":{"type":"text","fontSize":7,"fontWeight":"bold"},"encoding":{"x":{"field":"q","type":"quantitative","axis":{"orient":"top","values":[0,-0.5,-1,-1.5,-2,-2.5,-3,-3.5,-4,-4.5,-5,-5.5,-6,-6.5,-7,-7.5,-8,-8.5,-9,-9.5,-10,-10.5,-11,-11.5,-12,-12.5,-13,-13.5,-14],"tickSize":{"condition":{"test":"datum.value % 2 == 0","value":-5},"value":-2.5},"labels":false,"title":null}},"y":{"field":"X","type":"quantitative","axis":{"orient":"right","values":[2,1.5,1,0.5,0,-0.5,-1,-1.5,-2,-2.5,-3,-3.5,-4,-4.5,-5,-5.5,-6,-6.5,-7,-7.5,-8],"tickSize":{"condition":{"test":"datum.value % 2 == 0","value":-5},"value":-2.5},"labels":false,"title":null}},"text":{"field":"s"},"color":{"field":"s","type":"nominal","legend":null}}},
{"data":{"name":"hdrS"},"mark":{"type":"text","align":"left","fontSize":7.5,"fontWeight":"bold","color":"black"},"encoding":{"x":{"field":"q","type":"quantitative","axis":null},"y":{"field":"X","type":"quantitative","axis":null},"text":{"field":"t"}}},
{"data":{"name":"hdrSub"},"mark":{"type":"text","align":"left","fontSize":5,"fontWeight":"bold","color":"black"},"encoding":{"x":{"field":"q","type":"quantitative","axis":null},"y":{"field":"X","type":"quantitative","axis":null},"text":{"field":"t"}}},
{"data":{"name":"hdrV"},"transform":[{"filter":"datum.p=='d'"}],"mark":{"type":"text","align":"right","fontSize":7.5,"fontWeight":"bold","color":"black"},"encoding":{"x":{"field":"q","type":"quantitative","axis":null},"y":{"field":"X","type":"quantitative","axis":null},"text":{"field":"t"}}}
],"resolve":{"axis":{"x":"independent","y":"independent"}}},
{"width":252,"height":113,"layer":[
{"data":{"name":"curves"},"transform":[{"filter":"datum.p=='i'"}],"mark":{"type":"line","clip":true},"encoding":{"x":{"field":"q","type":"quantitative","scale":{"domain":[0,-14],"nice":false,"zero":false},"axis":{"orient":"bottom","values":[0,-0.5,-1,-1.5,-2,-2.5,-3,-3.5,-4,-4.5,-5,-5.5,-6,-6.5,-7,-7.5,-8,-8.5,-9,-9.5,-10,-10.5,-11,-11.5,-12,-12.5,-13,-13.5,-14],"tickSize":{"condition":{"test":"datum.value % 2 == 0","value":-5},"value":-2.5},"labels":false,"title":null}},"y":{"field":"X","type":"quantitative","scale":{"domain":[-8,2],"nice":false,"zero":false},"axis":{"orient":"left","values":[2,1.5,1,0.5,0,-0.5,-1,-1.5,-2,-2.5,-3,-3.5,-4,-4.5,-5,-5.5,-6,-6.5,-7,-7.5,-8],"tickSize":{"condition":{"test":"datum.value % 2 == 0","value":-5},"value":-2.5},"labels":false,"title":null}},"color":{"field":"s","type":"nominal","scale":{"domain":["He","C","O"],"range":["#0000ff","#00ee00","#ff00ff"]},"legend":null}}},
{"data":{"name":"labels"},"transform":[{"filter":"datum.p=='i'"}],"mark":{"type":"text","fontSize":7,"fontWeight":"bold"},"encoding":{"x":{"field":"q","type":"quantitative","axis":{"orient":"top","values":[0,-0.5,-1,-1.5,-2,-2.5,-3,-3.5,-4,-4.5,-5,-5.5,-6,-6.5,-7,-7.5,-8,-8.5,-9,-9.5,-10,-10.5,-11,-11.5,-12,-12.5,-13,-13.5,-14],"tickSize":{"condition":{"test":"datum.value % 2 == 0","value":-5},"value":-2.5},"labels":false,"title":null}},"y":{"field":"X","type":"quantitative","axis":{"orient":"right","values":[2,1.5,1,0.5,0,-0.5,-1,-1.5,-2,-2.5,-3,-3.5,-4,-4.5,-5,-5.5,-6,-6.5,-7,-7.5,-8],"tickSize":{"condition":{"test":"datum.value % 2 == 0","value":-5},"value":-2.5},"labels":false,"title":null}},"text":{"field":"s"},"color":{"field":"s","type":"nominal","legend":null}}},
{"data":{"name":"hdrS"},"mark":{"type":"text","align":"left","fontSize":7.5,"fontWeight":"bold","color":"black"},"encoding":{"x":{"field":"q","type":"quantitative","axis":null},"y":{"field":"X","type":"quantitative","axis":null},"text":{"field":"t"}}},
{"data":{"name":"hdrSub"},"mark":{"type":"text","align":"left","fontSize":5,"fontWeight":"bold","color":"black"},"encoding":{"x":{"field":"q","type":"quantitative","axis":null},"y":{"field":"X","type":"quantitative","axis":null},"text":{"field":"t"}}},
{"data":{"name":"hdrV"},"transform":[{"filter":"datum.p=='i'"}],"mark":{"type":"text","align":"right","fontSize":7.5,"fontWeight":"bold","color":"black"},"encoding":{"x":{"field":"q","type":"quantitative","axis":null},"y":{"field":"X","type":"quantitative","axis":null},"text":{"field":"t"}}},
{"data":{"name":"rules"},"transform":[{"filter":"datum.p=='i'"}],"mark":{"type":"rule","strokeDash":[8,4],"color":"black","strokeWidth":1},"encoding":{"x":{"field":"q","type":"quantitative","axis":null},"y":{"datum":0,"type":"quantitative","axis":null},"y2":{"datum":-8}}}
],"resolve":{"axis":{"x":"independent","y":"independent"}}},
{"width":252,"height":113,"layer":[
{"data":{"name":"curves"},"transform":[{"filter":"datum.p=='e'"}],"mark":{"type":"line","clip":true},"encoding":{"x":{"field":"q","type":"quantitative","scale":{"domain":[0,-14],"nice":false,"zero":false},"axis":{"orient":"bottom","values":[0,-0.5,-1,-1.5,-2,-2.5,-3,-3.5,-4,-4.5,-5,-5.5,-6,-6.5,-7,-7.5,-8,-8.5,-9,-9.5,-10,-10.5,-11,-11.5,-12,-12.5,-13,-13.5,-14],"tickSize":{"condition":{"test":"datum.value % 2 == 0","value":-5},"value":-2.5},"format":"d","labelExpr":"datum.value % 2 == 0 && datum.value < 0 && datum.value > -14 ? datum.label : ''","labelPadding":4,"title":"log q","titleAnchor":"end","titleAlign":"center","titlePadding":6,"titleFontSize":17}},"y":{"field":"X","type":"quantitative","scale":{"domain":[-8,2],"nice":false,"zero":false},"axis":{"orient":"left","values":[2,1.5,1,0.5,0,-0.5,-1,-1.5,-2,-2.5,-3,-3.5,-4,-4.5,-5,-5.5,-6,-6.5,-7,-7.5,-8],"tickSize":{"condition":{"test":"datum.value % 2 == 0","value":-5},"value":-2.5},"format":"d","labelExpr":"datum.value % 2 == 0 && datum.value <= 0 && datum.value > -8 ? datum.label : ''","labelPadding":8,"title":null}},"color":{"field":"s","type":"nominal","scale":{"domain":["He","C","O"],"range":["#0000ff","#00ee00","#ff00ff"]},"legend":null}}},
{"data":{"name":"labels"},"transform":[{"filter":"datum.p=='e'"}],"mark":{"type":"text","fontSize":7,"fontWeight":"bold"},"encoding":{"x":{"field":"q","type":"quantitative","axis":{"orient":"top","values":[0,-0.5,-1,-1.5,-2,-2.5,-3,-3.5,-4,-4.5,-5,-5.5,-6,-6.5,-7,-7.5,-8,-8.5,-9,-9.5,-10,-10.5,-11,-11.5,-12,-12.5,-13,-13.5,-14],"tickSize":{"condition":{"test":"datum.value % 2 == 0","value":-5},"value":-2.5},"labels":false,"title":null}},"y":{"field":"X","type":"quantitative","axis":{"orient":"right","values":[2,1.5,1,0.5,0,-0.5,-1,-1.5,-2,-2.5,-3,-3.5,-4,-4.5,-5,-5.5,-6,-6.5,-7,-7.5,-8],"tickSize":{"condition":{"test":"datum.value % 2 == 0","value":-5},"value":-2.5},"labels":false,"title":null}},"text":{"field":"s"},"color":{"field":"s","type":"nominal","legend":null}}},
{"data":{"name":"hdrS"},"mark":{"type":"text","align":"left","fontSize":7.5,"fontWeight":"bold","color":"black"},"encoding":{"x":{"field":"q","type":"quantitative","axis":null},"y":{"field":"X","type":"quantitative","axis":null},"text":{"field":"t"}}},
{"data":{"name":"hdrSub"},"mark":{"type":"text","align":"left","fontSize":5,"fontWeight":"bold","color":"black"},"encoding":{"x":{"field":"q","type":"quantitative","axis":null},"y":{"field":"X","type":"quantitative","axis":null},"text":{"field":"t"}}},
{"data":{"name":"hdrV"},"transform":[{"filter":"datum.p=='e'"}],"mark":{"type":"text","align":"right","fontSize":7.5,"fontWeight":"bold","color":"black"},"encoding":{"x":{"field":"q","type":"quantitative","axis":null},"y":{"field":"X","type":"quantitative","axis":null},"text":{"field":"t"}}},
{"data":{"name":"rules"},"transform":[{"filter":"datum.p=='e'"}],"mark":{"type":"rule","strokeDash":[8,4],"color":"black","strokeWidth":1},"encoding":{"x":{"field":"q","type":"quantitative","axis":null},"y":{"datum":0,"type":"quantitative","axis":null},"y2":{"datum":-8}}}
],"resolve":{"axis":{"x":"independent","y":"independent"}}},
{"width":252,"height":113,"layer":[
{"data":{"name":"curves"},"transform":[{"filter":"datum.p=='j'"}],"mark":{"type":"line","clip":true},"encoding":{"x":{"field":"q","type":"quantitative","scale":{"domain":[0,-14],"nice":false,"zero":false},"axis":{"orient":"bottom","values":[0,-0.5,-1,-1.5,-2,-2.5,-3,-3.5,-4,-4.5,-5,-5.5,-6,-6.5,-7,-7.5,-8,-8.5,-9,-9.5,-10,-10.5,-11,-11.5,-12,-12.5,-13,-13.5,-14],"tickSize":{"condition":{"test":"datum.value % 2 == 0","value":-5},"value":-2.5},"format":"d","labelExpr":"datum.value % 2 == 0 && datum.value < 0 && datum.value > -14 ? datum.label : ''","labelPadding":4,"title":null}},"y":{"field":"X","type":"quantitative","scale":{"domain":[-8,2],"nice":false,"zero":false},"axis":{"orient":"left","values":[2,1.5,1,0.5,0,-0.5,-1,-1.5,-2,-2.5,-3,-3.5,-4,-4.5,-5,-5.5,-6,-6.5,-7,-7.5,-8],"tickSize":{"condition":{"test":"datum.value % 2 == 0","value":-5},"value":-2.5},"labels":false,"title":null}},"color":{"field":"s","type":"nominal","scale":{"domain":["He","C","O"],"range":["#0000ff","#00ee00","#ff00ff"]},"legend":null}}},
{"data":{"name":"labels"},"transform":[{"filter":"datum.p=='j'"}],"mark":{"type":"text","fontSize":7,"fontWeight":"bold"},"encoding":{"x":{"field":"q","type":"quantitative","axis":{"orient":"top","values":[0,-0.5,-1,-1.5,-2,-2.5,-3,-3.5,-4,-4.5,-5,-5.5,-6,-6.5,-7,-7.5,-8,-8.5,-9,-9.5,-10,-10.5,-11,-11.5,-12,-12.5,-13,-13.5,-14],"tickSize":{"condition":{"test":"datum.value % 2 == 0","value":-5},"value":-2.5},"labels":false,"title":null}},"y":{"field":"X","type":"quantitative","axis":{"orient":"right","values":[2,1.5,1,0.5,0,-0.5,-1,-1.5,-2,-2.5,-3,-3.5,-4,-4.5,-5,-5.5,-6,-6.5,-7,-7.5,-8],"tickSize":{"condition":{"test":"datum.value % 2 == 0","value":-5},"value":-2.5},"labels":false,"title":null}},"text":{"field":"s"},"color":{"field":"s","type":"nominal","legend":null}}},
{"data":{"name":"hdrS"},"mark":{"type":"text","align":"left","fontSize":7.5,"fontWeight":"bold","color":"black"},"encoding":{"x":{"field":"q","type":"quantitative","axis":null},"y":{"field":"X","type":"quantitative","axis":null},"text":{"field":"t"}}},
{"data":{"name":"hdrSub"},"mark":{"type":"text","align":"left","fontSize":5,"fontWeight":"bold","color":"black"},"encoding":{"x":{"field":"q","type":"quantitative","axis":null},"y":{"field":"X","type":"quantitative","axis":null},"text":{"field":"t"}}},
{"data":{"name":"hdrV"},"transform":[{"filter":"datum.p=='j'"}],"mark":{"type":"text","align":"right","fontSize":7.5,"fontWeight":"bold","color":"black"},"encoding":{"x":{"field":"q","type":"quantitative","axis":null},"y":{"field":"X","type":"quantitative","axis":null},"text":{"field":"t"}}},
{"data":{"name":"rules"},"transform":[{"filter":"datum.p=='j'"}],"mark":{"type":"rule","strokeDash":[8,4],"color":"black","strokeWidth":1},"encoding":{"x":{"field":"q","type":"quantitative","axis":null},"y":{"datum":0,"type":"quantitative","axis":null},"y2":{"datum":-8}}}
],"resolve":{"axis":{"x":"independent","y":"independent"}}}
],
"config":{
"view":{"stroke":"black","strokeWidth":1},
"axis":{"domain":false,"grid":false,"tickColor":"black","tickWidth":1,"labelFont":"Liberation Sans","labelFontSize":10,"labelColor":"black","labelOverlap":false,"labelFlush":false,"titleFont":"Liberation Serif","titleFontSize":17,"titleFontWeight":"normal","titleColor":"black"},
"text":{"font":"Liberation Sans"},
"line":{"strokeWidth":1.3}
}
}
